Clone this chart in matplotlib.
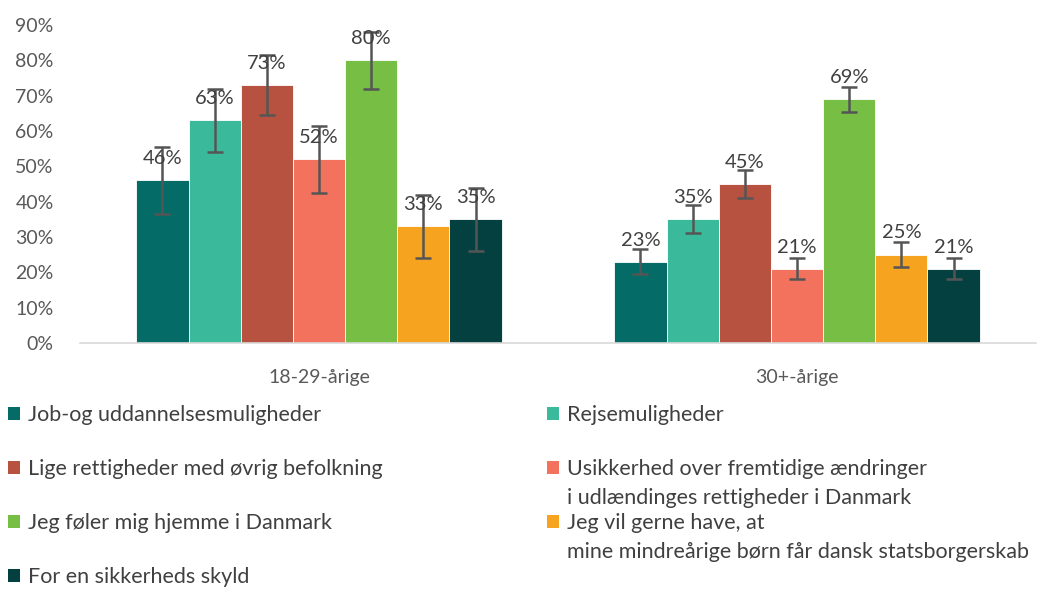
import matplotlib
matplotlib.use("Agg")
import matplotlib.pyplot as plt
import numpy as np
from matplotlib.patches import Patch

plt.rcParams['font.family'] = ['Lato', 'DejaVu Sans']

groups = ['18-29-årige', '30+-årige']
series = ['Job-og uddannelsesmuligheder',
          'Rejsemuligheder',
          'Lige rettigheder med øvrig befolkning',
          'Usikkerhed over fremtidige ændringer\ni udlændinges rettigheder i Danmark',
          'Jeg føler mig hjemme i Danmark',
          'Jeg vil gerne have, at\nmine mindreårige børn får dansk statsborgerskab',
          'For en sikkerheds skyld']
colors = ['#046b66', '#3bba9b', '#b85240', '#f2725e', '#77be45', '#f6a41f', '#044040']
# procent, [18-29, 30+]
values = [[46, 23], [63, 35], [73, 45], [52, 21], [80, 69], [33, 25], [35, 21]]
errors = [[9.5, 3.5], [9, 4], [8.5, 4], [9.5, 3], [8, 3.5], [9, 3.5], [9, 3]]

fig = plt.figure(figsize=(10.53, 5.93), dpi=100)
ax = fig.add_axes([80 / 1053, 1 - 343 / 593, 956 / 1053, 318 / 593])

x = np.arange(len(groups))
n = len(series)
width = 0.764 / n
for i in range(n):
    pos = x - 0.764 / 2 + width * (i + 0.5)
    ax.bar(pos, values[i], width, color=colors[i], edgecolor='white', linewidth=0.6)
    ax.errorbar(pos, values[i], yerr=errors[i], fmt='none', ecolor='#555555',
                elinewidth=1.8, capsize=5.5, capthick=1.8)
    for p, v in zip(pos, values[i]):
        ax.annotate(f'{v}%', (p, v), xytext=(0, 9.5), textcoords='offset points',
                    ha='center', va='bottom', fontsize=14.5, color='#404040')

ax.set_xlim(-0.5, 1.5)
ax.set_ylim(0, 90)
ax.set_yticks(range(0, 91, 10))
ax.set_yticklabels([f'{t}%' for t in range(0, 91, 10)])
ax.set_xticks(x)
ax.set_xticklabels(groups)
ax.tick_params(axis='both', length=0, labelsize=14, colors='#595959')
ax.tick_params(axis='x', pad=18.5)
ax.tick_params(axis='y', pad=19)
for s in ['top', 'right', 'left']:
    ax.spines[s].set_visible(False)
ax.spines['bottom'].set_color('#d9d9d9')
ax.spines['bottom'].set_linewidth(1.2)

# legend: first lines in two columns, continuation lines added as text
first = [s.split('\n')[0] for s in series]
order_cols = [[0, 2, 4, 6], [1, 3, 5]]
col_x = [8 / 1053, 547 / 1053]
legs = []
for c, idx in enumerate(order_cols):
    handles = [Patch(facecolor=colors[i]) for i in idx]
    leg = fig.legend(handles, [first[i] for i in idx], loc='upper left',
                     bbox_to_anchor=(col_x[c], 1 - 405 / 593), frameon=False,
                     fontsize=15.5, handlelength=0.55, handleheight=0.55,
                     handletextpad=0.4, labelspacing=1.58, borderaxespad=0,
                     borderpad=0)
    for t in leg.get_texts():
        t.set_color('#404040')
    legs.append((leg, idx))

fig.canvas.draw()
r = fig.canvas.get_renderer()
for leg, idx in legs:
    for t, i in zip(leg.get_texts(), idx):
        parts = series[i].split('\n')
        if len(parts) > 1:
            bb = t.get_window_extent(r)
            fig.text(bb.x0 / 1053, (bb.y0 - 29) / 593, parts[1], fontsize=15.5,
                     color='#404040', ha='left', va='bottom')

fig.savefig('out.png', dpi=100)
